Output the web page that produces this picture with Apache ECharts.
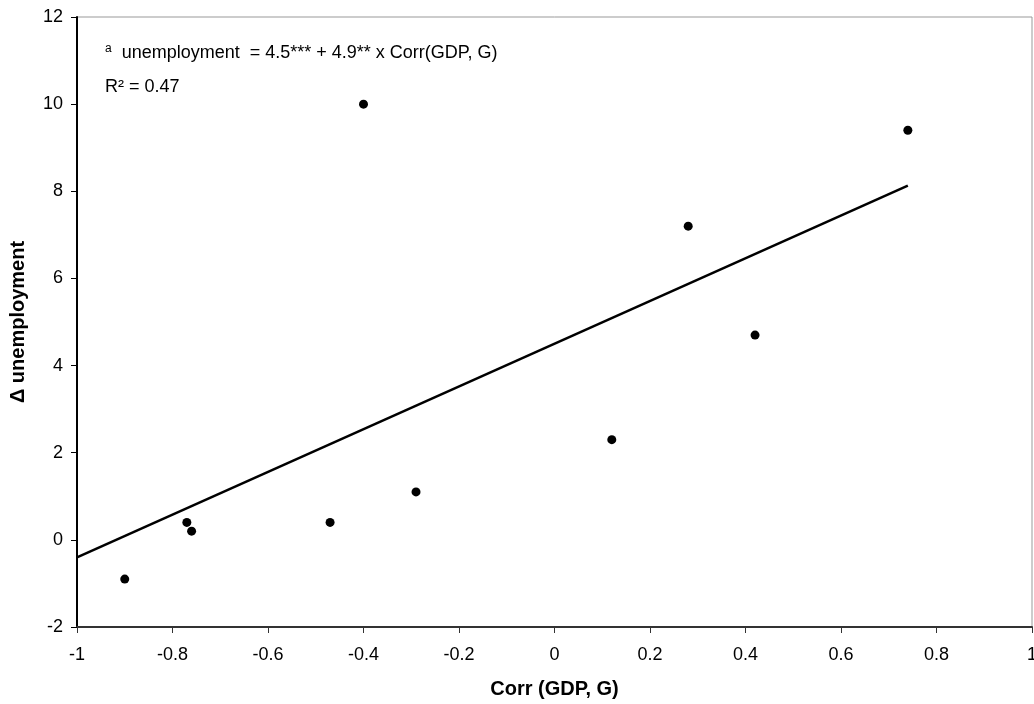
<!DOCTYPE html>
<html>
<head>
<meta charset="utf-8">
<script src="https://cdn.jsdelivr.net/npm/echarts@6/dist/echarts.min.js"></script>
<style>
html, body { margin: 0; padding: 0; background: #fff; }
#main { width: 1034px; height: 704px; }
</style>
</head>
<body>
<div id="main"></div>
<script>
// scatter points: Corr(GDP, G) vs change in unemployment
var corrValues = [-0.9, -0.77, -0.76, -0.47, -0.4, -0.29, 0.12, 0.28, 0.42, 0.74];
var unempValues = [-0.9, 0.4, 0.2, 0.4, 10.0, 1.1, 2.3, 7.2, 4.7, 9.4];
// fitted line endpoints
var trendX = [-1, 0.74];
var trendY = [-0.4, 8.13];

var fontName = 'Liberation Sans, Arial, sans-serif';

var chart = echarts.init(document.getElementById('main'));
option = {
    animation: false,
    grid: {
        left: 77,
        right: 2,
        top: 17,
        bottom: 77,
        outerBoundsMode: 'none',
        show: true,
        borderColor: '#999',
        borderWidth: 1
    },
    xAxis: {
        type: 'value',
        min: -1,
        max: 1,
        interval: 0.2,
        name: 'Corr (GDP, G)',
        nameLocation: 'middle',
        nameGap: 52,
        nameTextStyle: { fontFamily: fontName, fontSize: 20, fontWeight: 'bold', color: '#000' },
        axisLine: { onZero: false, lineStyle: { color: '#333', width: 2 } },
        axisTick: { length: 6, lineStyle: { color: '#333' } },
        axisLabel: {
            fontFamily: fontName, fontSize: 18, color: '#000', margin: 19,
            formatter: function (v) { return String(Math.round(v * 10) / 10); }
        },
        splitLine: { show: false }
    },
    yAxis: {
        type: 'value',
        min: -2,
        max: 12,
        interval: 2,
        name: '\u0394 unemployment',
        nameLocation: 'middle',
        nameGap: 49,
        nameTextStyle: { fontFamily: fontName, fontSize: 20, fontWeight: 'bold', color: '#000' },
        axisLine: { onZero: false, lineStyle: { color: '#000', width: 2 } },
        axisTick: { length: 6, lineStyle: { color: '#000' } },
        axisLabel: { fontFamily: fontName, fontSize: 18, color: '#000', margin: 14 },
        splitLine: { show: false }
    },
    graphic: [
        {
            type: 'text',
            x: 105,
            y: 53,
            style: {
                text: '{sup|a}  unemployment  = 4.5*** + 4.9** x Corr(GDP, G)',
                font: '18px ' + fontName,
                fill: '#000',
                verticalAlign: 'middle',
                rich: {
                    sup: { fontSize: 12, fontFamily: fontName, padding: [0, 0, 8, 0] }
                }
            }
        },
        {
            type: 'text',
            x: 105,
            y: 87,
            style: {
                text: 'R\u00B2 = 0.47',
                font: '18px ' + fontName,
                fill: '#000',
                verticalAlign: 'middle'
            }
        }
    ],
    series: [
        {
            type: 'line',
            data: trendX.map(function (x, i) { return [x, trendY[i]]; }),
            symbol: 'none',
            lineStyle: { color: '#000', width: 2.5 },
            silent: true
        },
        {
            type: 'scatter',
            data: corrValues.map(function (x, i) { return [x, unempValues[i]]; }),
            symbol: 'circle',
            symbolSize: 9,
            itemStyle: { color: '#000', opacity: 1 }
        }
    ]
};
chart.setOption(option);
</script>
</body>
</html>
